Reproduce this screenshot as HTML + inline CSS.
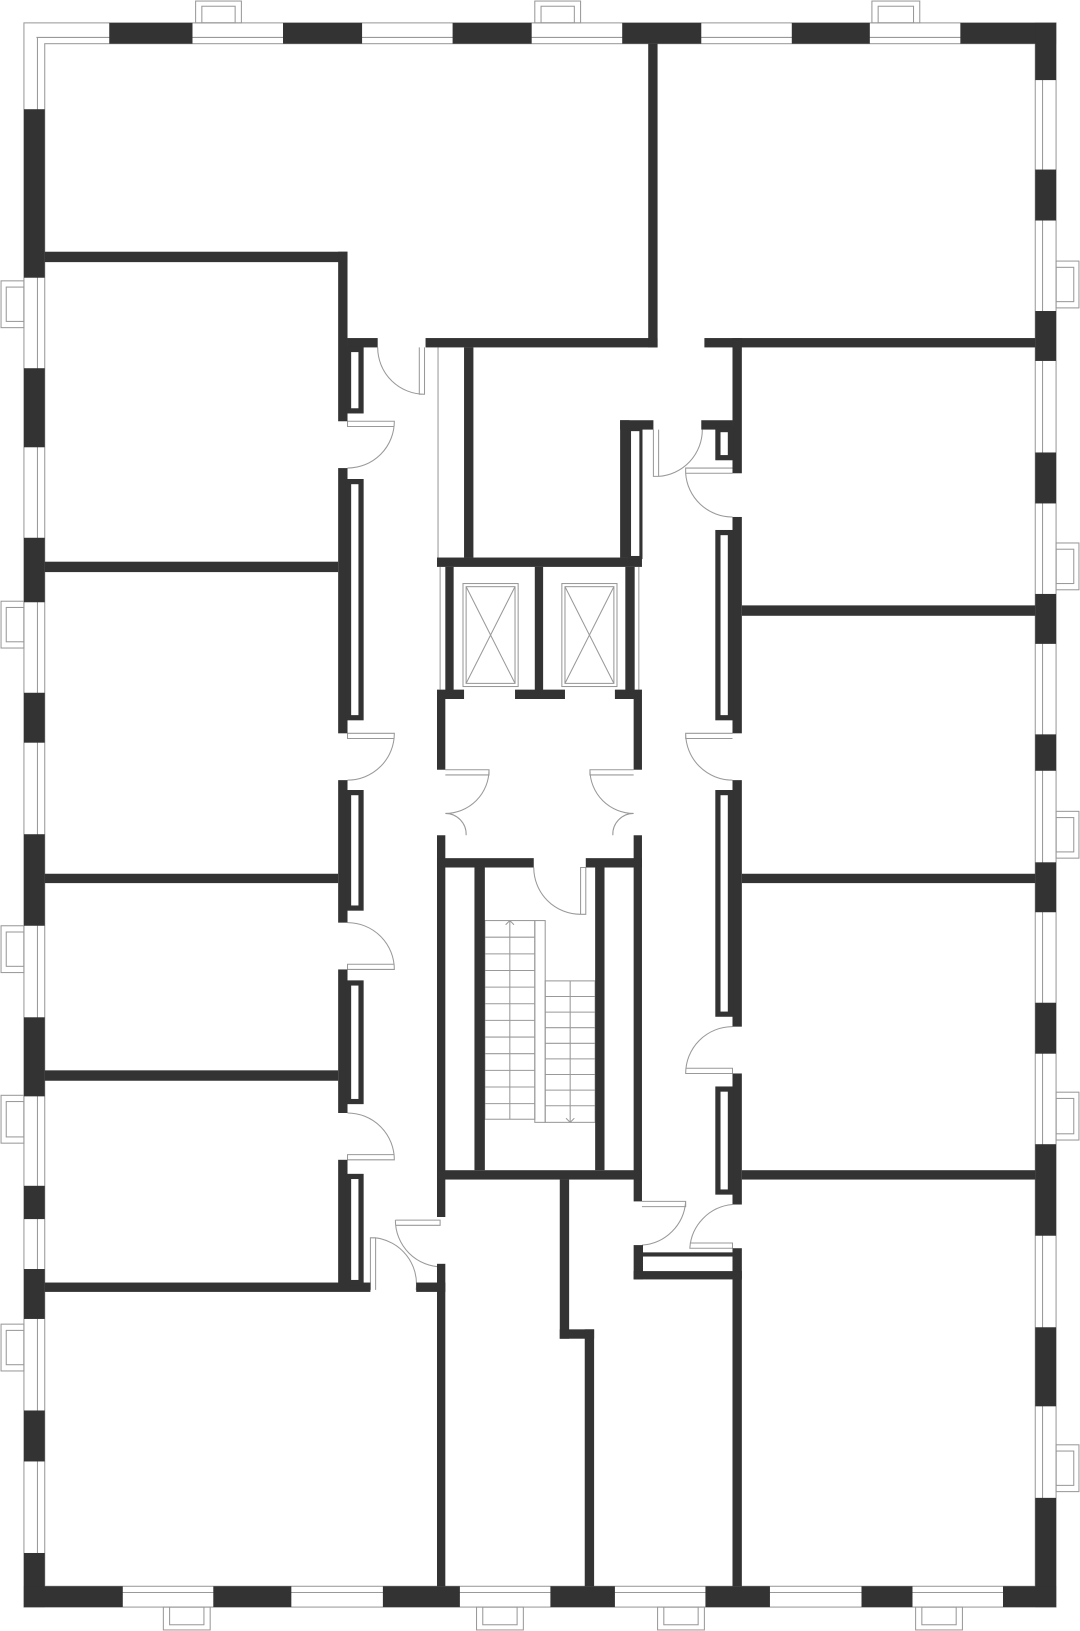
<!DOCTYPE html>
<html><head><meta charset="utf-8"><style>html,body{margin:0;padding:0;background:#fff}svg{display:block}</style></head>
<body>
<svg width="1080" height="1631" viewBox="0 0 1038 1568" preserveAspectRatio="none" xmlns="http://www.w3.org/2000/svg">
<g fill="none" stroke="#999" stroke-width="1">
<!-- window frames -->
<rect x="23" y="22" width="992" height="1523"/>
<rect x="43" y="42" width="952" height="1483"/>
<!-- balconies -->
<g>
<rect x="188" y="1" width="44" height="21"/><rect x="194" y="6" width="32" height="16"/>
<rect x="514" y="1" width="44" height="21"/><rect x="520" y="6" width="32" height="16"/>
<rect x="838" y="1" width="46" height="21"/><rect x="844" y="6" width="34" height="16"/>
<rect x="1" y="270" width="22" height="45"/><rect x="6" y="276" width="17" height="33"/>
<rect x="1" y="578" width="22" height="45"/><rect x="6" y="584" width="17" height="33"/>
<rect x="1" y="890" width="22" height="45"/><rect x="6" y="896" width="17" height="33"/>
<rect x="1" y="1053" width="22" height="46"/><rect x="6" y="1059" width="17" height="34"/>
<rect x="1" y="1273" width="22" height="45"/><rect x="6" y="1279" width="17" height="33"/>
<rect x="1015" y="251" width="22" height="45"/><rect x="1015" y="257" width="17" height="33"/>
<rect x="1015" y="522" width="22" height="45"/><rect x="1015" y="528" width="17" height="33"/>
<rect x="1015" y="780" width="22" height="45"/><rect x="1015" y="786" width="17" height="33"/>
<rect x="1015" y="1050" width="22" height="46"/><rect x="1015" y="1056" width="17" height="34"/>
<rect x="1015" y="1389" width="22" height="45"/><rect x="1015" y="1395" width="17" height="33"/>
<rect x="157" y="1545" width="45" height="22"/><rect x="163" y="1545" width="33" height="17"/>
<rect x="458" y="1545" width="45" height="22"/><rect x="464" y="1545" width="33" height="17"/>
<rect x="632" y="1545" width="45" height="22"/><rect x="638" y="1545" width="33" height="17"/>
<rect x="880" y="1545" width="45" height="22"/><rect x="886" y="1545" width="33" height="17"/>
</g>
<!-- glass lines -->
<line x1="35" y1="36" x2="1003" y2="36"/><line x1="35" y1="1531" x2="1003" y2="1531"/>
<line x1="36" y1="36" x2="36" y2="1531"/><line x1="1002" y1="36" x2="1002" y2="1531"/>
<!-- doors -->
<path d="M363 334 A45 45 0 0 0 408 379 M403 334 V379 H408 V334"/>
<path d="M334 450 A45 45 0 0 0 379 405 H334 V410 H379"/>
<path d="M334 750 A45 45 0 0 0 379 705 H334 V710 H379"/>
<path d="M334 887 A45 45 0 0 1 379 932 H334 V927 H379"/>
<path d="M334 1070 A45 45 0 0 1 379 1115 H334 V1110 H379"/>
<path d="M380 1173 A45 45 0 0 0 425 1218 M380 1173 H423 V1178 H380 M356 1240 V1190 H361 V1240 M361 1190 A45 45 0 0 1 400 1240"/>
<path d="M628 413 V458 H633 V413 M633 458 A45 45 0 0 0 675 413"/>
<path d="M704 455 H659 V450 H704 M659 455 A45 45 0 0 0 704 497"/>
<path d="M704 705 H659 V710 H704 M659 705 A45 45 0 0 0 704 750"/>
<path d="M704 987 A45 45 0 0 0 659 1032 H704 V1027 H659"/>
<path d="M704 1158 A45 45 0 0 0 663 1200 H704 V1195 H663"/>
<path d="M617 1155 H659 V1160 H617 M659 1155 A45 45 0 0 1 617 1197"/>
<path d="M428 740 H470 V745 H428 M470 740 A42 42 0 0 1 428 782 M428 782 A20 20 0 0 1 448 803"/>
<path d="M609 740 H567 V745 H609 M567 740 A42 42 0 0 0 609 782 M609 782 A20 20 0 0 0 589 803"/>
<path d="M513 834 A45 45 0 0 0 558 879 V834 H563 V879 H558"/>
<!-- lifts -->
<rect x="445" y="561" width="53" height="99"/><rect x="448" y="564" width="47" height="93"/>
<path d="M448 564 L495 657 M495 564 L448 657"/>
<rect x="540" y="561" width="53" height="99"/><rect x="543" y="564" width="47" height="93"/>
<path d="M543 564 L590 657 M590 564 L543 657"/>
<!-- stairs -->
<rect x="466" y="885" width="48" height="191"/>
<rect x="514" y="885" width="10" height="194"/>
<rect x="524" y="943" width="48" height="136"/>
<path d="M490 885 V1076 M548 943 V1079 M486 889 L490 885 L494 889 M544 1075 L548 1079 L552 1075"/>
<path d="M466 901 H514 M466 917 H514 M466 933 H514 M466 949 H514 M466 965 H514 M466 981 H514 M466 997 H514 M466 1013 H514 M466 1029 H514 M466 1045 H514 M466 1061 H514
M524 958 H572 M524 973 H572 M524 988 H572 M524 1003 H572 M524 1018 H572 M524 1033 H572 M524 1048 H572 M524 1063 H572"/>
<line x1="421" y1="334" x2="421" y2="536"/><line x1="423" y1="545" x2="423" y2="663"/><line x1="614" y1="545" x2="614" y2="663"/>
<line x1="617" y1="413" x2="617" y2="536"/>
</g>
<g fill="#333">
<!-- top wall -->
<rect x="105" y="22" width="80" height="20"/><rect x="272" y="22" width="76" height="20"/><rect x="435" y="22" width="76" height="20"/><rect x="598" y="22" width="76" height="20"/><rect x="761" y="22" width="75" height="20"/><rect x="923" y="22" width="92" height="20"/>
<!-- left wall -->
<rect x="23" y="105" width="20" height="162"/><rect x="23" y="354" width="20" height="76"/><rect x="23" y="517" width="20" height="62"/><rect x="23" y="666" width="20" height="48"/><rect x="23" y="802" width="20" height="88"/><rect x="23" y="978" width="20" height="76"/><rect x="23" y="1140" width="20" height="32"/><rect x="23" y="1220" width="20" height="48"/><rect x="23" y="1356" width="20" height="49"/><rect x="23" y="1493" width="20" height="52"/>
<!-- right wall -->
<rect x="995" y="22" width="20" height="55"/><rect x="995" y="163" width="20" height="49"/><rect x="995" y="299" width="20" height="48"/><rect x="995" y="435" width="20" height="49"/><rect x="995" y="571" width="20" height="48"/><rect x="995" y="706" width="20" height="35"/><rect x="995" y="829" width="20" height="48"/><rect x="995" y="964" width="20" height="49"/><rect x="995" y="1100" width="20" height="88"/><rect x="995" y="1276" width="20" height="76"/><rect x="995" y="1440" width="20" height="105"/>
<!-- bottom wall -->
<rect x="23" y="1525" width="95" height="20"/><rect x="205" y="1525" width="75" height="20"/><rect x="368" y="1525" width="74" height="20"/><rect x="529" y="1525" width="62" height="20"/><rect x="678" y="1525" width="62" height="20"/><rect x="828" y="1525" width="49" height="20"/><rect x="964" y="1525" width="51" height="20"/>
<!-- left interior -->
<rect x="43" y="242" width="291" height="10"/>
<rect x="325" y="242" width="9" height="163"/><rect x="325" y="450" width="9" height="255"/><rect x="325" y="750" width="9" height="137"/><rect x="325" y="932" width="9" height="138"/><rect x="325" y="1115" width="9" height="125"/>
<rect x="43" y="540" width="282" height="10"/><rect x="43" y="840" width="282" height="9"/><rect x="43" y="1029" width="282" height="10"/><rect x="43" y="1233" width="313" height="9"/>
<rect x="334" y="325" width="29" height="9"/><rect x="409" y="325" width="223" height="9"/><rect x="623" y="42" width="9" height="292"/>
<rect x="677" y="325" width="318" height="9"/>
<rect x="446" y="334" width="9" height="202"/>
<rect x="420" y="536" width="197" height="9"/>
<rect x="596" y="404" width="9" height="132"/><rect x="596" y="404" width="32" height="9"/>
<rect x="428" y="545" width="8" height="127"/><rect x="514" y="545" width="8" height="127"/><rect x="601" y="545" width="9" height="127"/>
<rect x="420" y="663" width="26" height="9"/><rect x="495" y="663" width="48" height="9"/><rect x="591" y="663" width="26" height="9"/>
<rect x="420" y="672" width="8" height="68"/><rect x="609" y="672" width="8" height="68"/>
<rect x="420" y="803" width="8" height="367"/><rect x="609" y="803" width="8" height="352"/>
<rect x="420" y="825" width="93" height="9"/><rect x="563" y="825" width="54" height="9"/>
<rect x="456" y="834" width="10" height="291"/><rect x="572" y="834" width="9" height="291"/>
<rect x="420" y="1125" width="197" height="9"/>
<rect x="538" y="1134" width="9" height="153"/><rect x="538" y="1278" width="33" height="9"/><rect x="562" y="1278" width="9" height="247"/>
<rect x="420" y="1215" width="8" height="310"/><rect x="400" y="1233" width="28" height="9"/>
<!-- right interior -->
<rect x="704" y="325" width="9" height="130"/><rect x="704" y="497" width="9" height="208"/><rect x="704" y="750" width="9" height="237"/><rect x="704" y="1032" width="9" height="126"/><rect x="704" y="1200" width="9" height="325"/>
<rect x="674" y="404" width="30" height="9"/>
<rect x="713" y="582" width="282" height="10"/><rect x="713" y="840" width="282" height="9"/><rect x="713" y="1125" width="282" height="9"/>
<rect x="609" y="1197" width="9" height="33"/><rect x="609" y="1222" width="104" height="8"/><rect x="618" y="1204" width="86" height="4"/>
</g>
<!-- closets (outlined dark) -->
<g fill="none" stroke="#333" stroke-width="5">
<rect x="335" y="336" width="12" height="59"/>
<rect x="335" y="463" width="12" height="227"/>
<rect x="335" y="762" width="12" height="111"/>
<rect x="335" y="945" width="12" height="114"/>
<rect x="335" y="1131" width="12" height="102"/>
<rect x="690" y="413" width="12" height="27"/>
<rect x="690" y="512" width="12" height="178"/>
<rect x="690" y="762" width="12" height="213"/>
<rect x="690" y="1047" width="12" height="99"/>
<rect x="605" y="413" width="11" height="123" stroke-width="3"/>
</g>
</svg>
</body></html>
